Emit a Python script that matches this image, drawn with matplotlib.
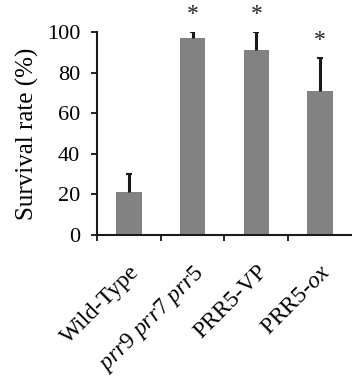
import matplotlib
matplotlib.use("Agg")
import matplotlib.pyplot as plt
import matplotlib.transforms as mtransforms
import numpy as np

categories = ["Wild-Type", r"$\it{prr9\ prr7\ prr5}$", "PRR5-VP", r"PRR5-$\it{ox}$"]
values = [21, 97, 91, 71]
errors = [9, 3, 9, 16]
significant = [False, True, True, True]
yticks = [0, 20, 40, 60, 80, 100]

plt.rcParams['font.family'] = ['Liberation Serif']
plt.rcParams['mathtext.fontset'] = 'custom'
plt.rcParams['mathtext.rm'] = 'Liberation Serif'
plt.rcParams['mathtext.it'] = 'Liberation Serif:italic'

fig = plt.figure(figsize=(3.52, 3.87), dpi=100)
ax = fig.add_axes([97/352, 1-235/387, (357-97)/352, (235-32)/387])

x = np.arange(len(categories))
tops = np.array(values) + np.array(errors)
ax.bar(x, values, width=0.4, color='#828282', zorder=2)
ax.vlines(x, values, tops, color='#1a1a1a', linewidth=2.2, zorder=3)
ax.hlines(tops, x - 0.045, x + 0.045, color='#1a1a1a', linewidth=1.5, zorder=3)
for xi, t, s in zip(x, tops, significant):
    if s:
        ax.text(xi, t + 3.5, '*', ha='center', va='bottom', fontsize=17, color='#222222')

ax.set_xlim(-0.5, len(categories) - 0.5 + 0.08)
ax.set_ylim(0, 100)
ax.set_yticks(yticks)
ax.set_yticklabels([str(t) for t in yticks], fontsize=16)
ax.set_xticks(np.arange(len(categories)) - 0.5)
ax.set_xticklabels([])
ax.set_xticks(x, minor=True)
ax.set_xticklabels(categories, minor=True, rotation=45, ha='right',
                   rotation_mode='anchor', fontsize=17)
offset = mtransforms.ScaledTranslation(-4/100, 0, fig.dpi_scale_trans)
for lab in ax.get_xticklabels(minor=True):
    lab.set_transform(lab.get_transform() + offset)
ax.tick_params(axis='x', which='minor', length=0, pad=19)
ax.tick_params(axis='x', which='major', length=4, width=1.2, direction='out')
ax.tick_params(axis='y', length=4, width=1.2, direction='out', pad=8)
ax.set_ylabel('Survival rate (%)', fontsize=18, labelpad=6)

for side in ['top', 'right']:
    ax.spines[side].set_visible(False)
for side in ['left', 'bottom']:
    ax.spines[side].set_linewidth(1.5)
    ax.spines[side].set_color('#1a1a1a')

fig.savefig('out.png', dpi=100)
